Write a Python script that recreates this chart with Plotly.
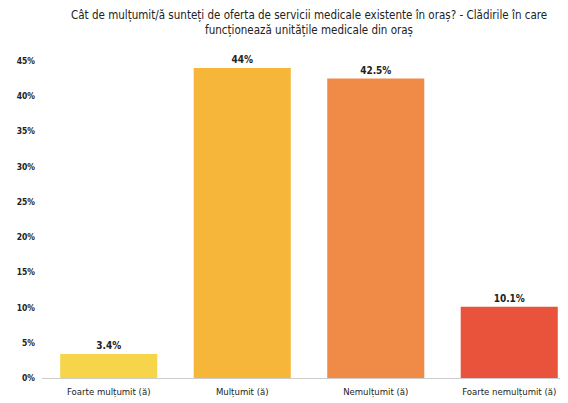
import plotly.graph_objects as go

categories = ["Foarte mulțumit (ă)", "Mulțumit (ă)", "Nemulțumit (ă)", "Foarte nemulțumit (ă)"]
values = [3.4, 44, 42.5, 10.1]
value_labels = ["3.4%", "44%", "42.5%", "10.1%"]
colors = ["#F7D54A", "#F6B63A", "#F08B47", "#E9523B"]
tick_vals = [0, 5, 10, 15, 20, 25, 30, 35, 40, 45]
tick_text = ["0%", "5%", "10%", "15%", "20%", "25%", "30%", "35%", "40%", "45%"]
title_text = ("Cât de mulțumit/ă sunteți de oferta de servicii medicale existente în oraș? - Clădirile în care"
              "<br>funcționează unitățile medicale din oraș")

font_family = "DejaVu Sans Condensed, Liberation Sans Narrow, Arial Narrow, sans-serif"

fig = go.Figure(go.Bar(
    x=list(range(len(categories))),
    y=values,
    marker=dict(color=colors, line=dict(width=0)),
    width=0.727,
    text=value_labels,
    textposition="outside",
    textfont=dict(family=font_family, size=10, color="#222222", weight="bold"),
    cliponaxis=False,
))

fig.add_annotation(
    text=title_text, xref="paper", yref="paper", x=0.5, y=1, yshift=55,
    xanchor="center", yanchor="top", showarrow=False, align="center",
    font=dict(family=font_family, size=11.5, color="#222222"),
)

fig.update_layout(
    width=568, height=403,
    margin=dict(l=34, r=0, t=53, b=33, autoexpand=False),
    paper_bgcolor="white", plot_bgcolor="white",
    showlegend=False,
    xaxis=dict(
        range=[-0.5, 3.5],
        tickvals=list(range(len(categories))),
        ticktext=categories,
        tickfont=dict(family=font_family, size=9.5, color="#222222"),
        showgrid=False, showline=False, zeroline=False, ticks="",
        ticklabelstandoff=6, automargin=False,
    ),
    yaxis=dict(
        range=[0, 45],
        tickvals=tick_vals,
        ticktext=tick_text,
        tickfont=dict(family=font_family, size=8.5, color="#222222", weight="bold"),
        showgrid=False, zeroline=True, zerolinecolor="#CCCCCC", zerolinewidth=1,
        showline=False, ticks="", ticklabelstandoff=6, automargin=False,
    ),
)

fig.write_html("out.html")
